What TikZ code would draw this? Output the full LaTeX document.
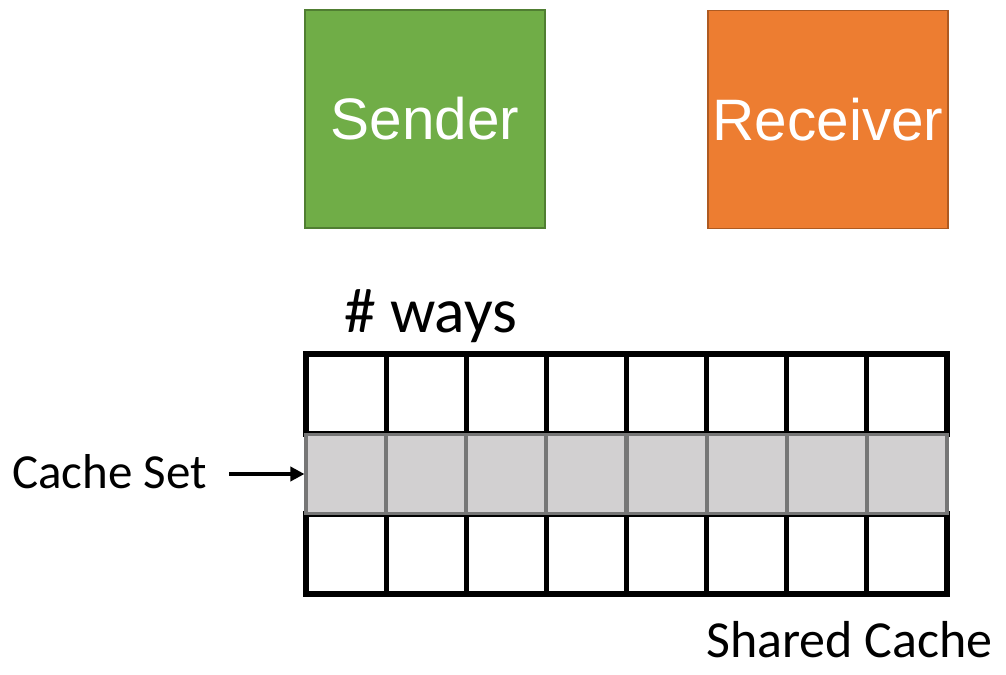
\documentclass[tikz,border=0pt]{standalone}
\usepackage{fontspec}
\setmainfont{Carlito}
\newfontfamily\boxfont{Liberation Sans}
\usetikzlibrary{arrows.meta}

\definecolor{sendgreen}{HTML}{70AD47}
\definecolor{sendedge}{HTML}{507E32}
\definecolor{recvorange}{HTML}{ED7D31}
\definecolor{recvedge}{HTML}{AE5A21}
\definecolor{setfill}{HTML}{D2D0D1}
\definecolor{setedge}{HTML}{767676}

\tikzset{
  party/.style={rectangle, draw, line width=1.5bp, minimum width=240bp,
    minimum height=218bp, inner sep=0pt, text=white,
    text height=42bp, text depth=0bp,
    font=\boxfont\fontsize{58.5bp}{62bp}\selectfont},
  label/.style={inner sep=0pt, text=black},
  waycell/.style={rectangle, draw=black, line width=5.2bp, fill=white,
    minimum width=80.1bp, minimum height=80bp, inner sep=0pt},
  setcell/.style={rectangle, draw=setedge, line width=3.6bp, fill=setfill,
    minimum width=79.6bp, minimum height=79bp, inner sep=0pt},
  pointer/.style={line width=4bp, -{Triangle[length=14bp,width=14bp]}}
}

\begin{document}
\begin{tikzpicture}[x=1bp, y=-1bp]
  \useasboundingbox (0,0) rectangle (1006,675);

  % the two parties
  \node[party, fill=sendgreen, draw=sendedge] (sender) at (425,119) {Sender};
  \node[party, fill=recvorange, draw=recvedge] (receiver) at (828,119.5) {Receiver};

  % cache grid: 3 sets x 8 ways
  \foreach \c in {1,...,8} {
    \node[waycell] (c-1-\c) at ({306+80.125*(\c-0.5)},394) {};
    \node[waycell] (c-3-\c) at ({306+80.125*(\c-0.5)},554) {};
  }
  \foreach \c in {1,...,8} {
    \node[setcell] (c-2-\c) at ({306+80.125*(\c-0.5)},474) {};
  }

  % labels
  \node[label, anchor=base west, font=\fontsize{63.5bp}{66bp}\selectfont]
    (ways) at (344,332) {\# ways};
  \node[label, anchor=base west, font=\fontsize{49bp}{52bp}\selectfont]
    (cacheset) at (12,488) {Cache Set};
  \node[label, anchor=base west, font=\fontsize{52bp}{55bp}\selectfont]
    (shared) at (706,657) {Shared Cache};

  % arrow pointing at the highlighted set
  \coordinate (settail) at (229,474);
  \draw[pointer] (settail) -- (c-2-1.west);
\end{tikzpicture}
\end{document}
